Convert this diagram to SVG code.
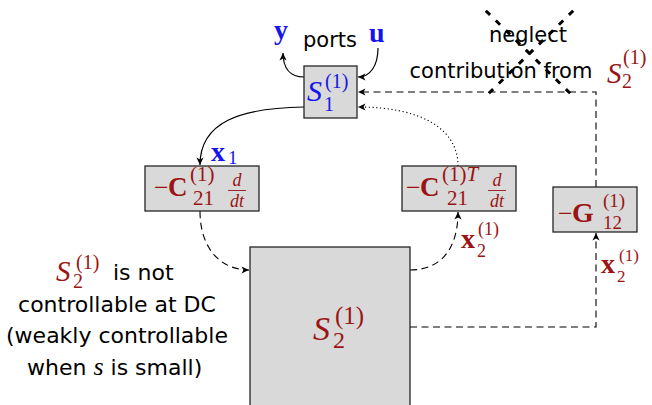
<svg xmlns="http://www.w3.org/2000/svg" width="652" height="405" viewBox="0 0 652 405">
<defs>
<style>
.box{fill:#d9d9d9;stroke:#262626;stroke-width:1.3}
.sans{font-family:"DejaVu Sans",sans-serif;fill:#000}
.m{font-family:"Liberation Serif","Times New Roman",serif}
.it{font-style:italic}
.up{font-style:normal;font-weight:normal}
.bf{font-weight:bold}
.blue{fill:#1414f0}
.red{fill:#9a1414}
.solid{fill:none;stroke:#000;stroke-width:1.2}
.dash{fill:none;stroke:#000;stroke-width:1.1;stroke-dasharray:7 4.5}
.dot{fill:none;stroke:#000;stroke-width:1.1;stroke-dasharray:1.2 2.6}
.cross{fill:none;stroke:#000;stroke-width:3;stroke-dasharray:6 8}
</style>
<marker id="ah" markerUnits="userSpaceOnUse" viewBox="-8 -4 9 8" refX="0" refY="0" markerWidth="9" markerHeight="8" orient="auto">
<path d="M-7.5,-3.6 L0,0 L-7.5,3.6 L-5.5,0 Z" fill="#000"/>
</marker>
</defs>
<rect width="652" height="405" fill="#fff"/>

<g id="crossout">
<path class="cross" d="M484,9 L575,98" stroke-dashoffset="-2.5"/>
<path class="cross" d="M575,9 L484,98" stroke-dashoffset="-2.5"/>
</g>

<g id="connectors">
<path class="solid" d="M304,77 C290,77 283,68 283,53" marker-end="url(#ah)"/>
<path class="solid" d="M378,48 C378,66 370,77 358,77" marker-end="url(#ah)"/>
<path class="solid" d="M304,107 C240,108 200,122 200,165" marker-end="url(#ah)"/>
<path class="dot" d="M458,166 C458,128 420,107 358,107" marker-end="url(#ah)"/>
<path class="dash" d="M200,211 C200,250 222,270 249,270" marker-end="url(#ah)"/>
<path class="dash" d="M410,270 C440,270 458,250 458,212" marker-end="url(#ah)"/>
<path class="dash" d="M410,327 L596,327 L596,233" marker-end="url(#ah)"/>
<path class="dash" d="M596,187 L596,92 L358,92" marker-end="url(#ah)"/>
</g>

<g id="S1">
<rect class="box" x="304" y="66" width="53" height="52"/>
<text class="m it blue" x="307" y="101" font-size="30">S<tspan class="up" x="325" y="88" font-size="20">(1)</tspan><tspan class="up" x="324" y="111" font-size="20">1</tspan></text>
</g>

<g id="C21">
<rect class="box" x="145" y="166" width="114" height="45"/>
<text class="m red" x="154" y="196" font-size="26">−<tspan class="bf" x="168" font-size="27">C</tspan><tspan x="190" y="181" font-size="21">(1)</tspan><tspan x="193" y="205" font-size="21">21</tspan></text>
<text class="m it red" x="237" y="186" font-size="18" text-anchor="middle">d</text>
<line x1="228" y1="190.5" x2="246" y2="190.5" stroke="#9a1414" stroke-width="0.9"/>
<text class="m it red" x="237" y="207" font-size="18" text-anchor="middle">dt</text>
</g>

<g id="C21T">
<rect class="box" x="402" y="166" width="114" height="45"/>
<text class="m red" x="406" y="196" font-size="26">−<tspan class="bf" x="420" font-size="27">C</tspan><tspan x="442" y="181" font-size="21">(1)<tspan class="it">T</tspan></tspan><tspan x="447" y="205" font-size="21">21</tspan></text>
<text class="m it red" x="497" y="186" font-size="18" text-anchor="middle">d</text>
<line x1="488" y1="190.5" x2="506" y2="190.5" stroke="#9a1414" stroke-width="0.9"/>
<text class="m it red" x="497" y="207" font-size="18" text-anchor="middle">dt</text>
</g>

<g id="G12">
<rect class="box" x="553" y="187" width="84" height="45"/>
<text class="m red" x="558" y="222" font-size="26">−<tspan class="bf" x="572" font-size="28">G</tspan><tspan x="603" y="207" font-size="19">(1)</tspan><tspan x="603" y="229" font-size="19">12</tspan></text>
</g>

<g id="S2">
<rect class="box" x="250" y="247" width="160" height="170"/>
<text class="m it red" x="313" y="340" font-size="34">S<tspan class="up" x="335" y="324" font-size="25">(1)</tspan><tspan class="up" x="333" y="348" font-size="24">2</tspan></text>
</g>

<g id="labels">
<text class="m bf blue" x="274" y="39" font-size="28">y</text>
<text class="sans" x="303" y="47" font-size="21">ports</text>
<text class="m bf blue" x="369" y="42" font-size="28">u</text>

<text class="sans" x="528" y="42" font-size="21" text-anchor="middle">neglect</text>
<text class="sans" x="501" y="78" font-size="21" text-anchor="middle">contribution from</text>
<text class="m it red" x="607" y="83" font-size="29">S<tspan class="up" x="623" y="64" font-size="20">(1)</tspan><tspan class="up" x="622" y="88" font-size="20">2</tspan></text>

<text class="m bf blue" x="211" y="161" font-size="28">x<tspan class="up" x="228" y="164" font-size="19">1</tspan></text>

<text class="m bf red" x="461" y="248" font-size="28">x<tspan class="up" x="477" y="257" font-size="18">2</tspan><tspan class="up" x="478" y="235" font-size="18">(1)</tspan></text>

<text class="m bf red" x="601" y="273" font-size="28">x<tspan class="up" x="617" y="282" font-size="17">2</tspan><tspan class="up" x="619" y="261" font-size="17">(1)</tspan></text>

<text class="m it red" x="56" y="281" font-size="29">S<tspan class="up" x="76" y="269" font-size="20">(1)</tspan><tspan class="up" x="73" y="288" font-size="20">2</tspan><tspan class="sans up" x="113" y="280" font-size="22">is not</tspan></text>
<text class="sans" x="117" y="312" font-size="22" text-anchor="middle">controllable at DC</text>
<text class="sans" x="117" y="343" font-size="22" text-anchor="middle">(weakly controllable</text>
<text class="sans" x="27" y="375" font-size="22">when <tspan class="m it" font-size="26">s</tspan> is small)</text>
</g>
</svg>
